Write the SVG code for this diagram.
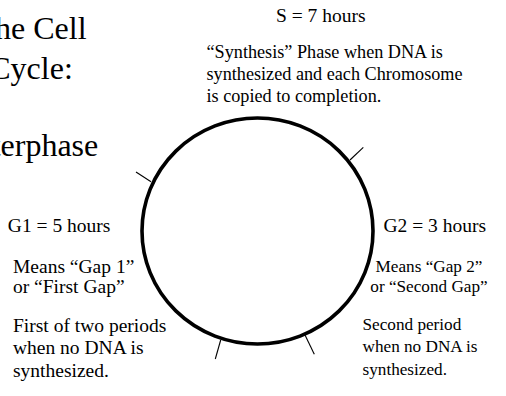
<svg xmlns="http://www.w3.org/2000/svg" width="506" height="396" viewBox="0 0 506 396">
  <style>
    text { font-family: "Liberation Serif", "Times New Roman", serif; fill: #000; }
    .title { font-size: 32px; }
    .phase { font-size: 19.5px; }
    .desc-top { font-size: 18.2px; }
    .desc-left { font-size: 19.5px; }
    .desc-right { font-size: 17.2px; }
    .cycle { fill: none; stroke: #000; stroke-width: 3.6; }
    .tick { stroke: #000; stroke-width: 1.1; }
  </style>
  <rect width="506" height="396" fill="#fff"/>

  <!-- heading, partly running off the left edge -->
  <g id="heading">
    <text class="title" x="31" y="38.5" text-anchor="middle">The Cell</text>
    <text class="title" x="31" y="79" text-anchor="middle">Cycle:</text>
    <text class="title" x="-35" y="156">Interphase</text>
  </g>

  <!-- the cycle ring with its phase boundary ticks -->
  <g id="cycle-ring">
    <ellipse class="cycle" cx="257.5" cy="231" rx="115.5" ry="113"/>
  </g>
  <g id="connectors">
    <line class="tick" x1="136" y1="172" x2="151" y2="181.7"/>
    <line class="tick" x1="363.3" y1="147.3" x2="350" y2="160"/>
    <line class="tick" x1="220.7" y1="340" x2="215.3" y2="359"/>
    <line class="tick" x1="305" y1="335" x2="314.3" y2="354.3"/>
  </g>

  <!-- S phase -->
  <g id="s-phase">
    <text class="phase" x="276" y="21.7">S = 7 hours</text>
    <text class="desc-top" x="206.5" y="57.5">“Synthesis” Phase when DNA is</text>
    <text class="desc-top" x="206.5" y="79.5">synthesized and each Chromosome</text>
    <text class="desc-top" x="206.5" y="101.5">is copied to completion.</text>
  </g>

  <!-- G1 phase -->
  <g id="g1-phase">
    <text class="phase" x="7.8" y="231.7">G1 = 5 hours</text>
    <text class="desc-left" x="13" y="272.7">Means “Gap 1”</text>
    <text class="desc-left" x="13" y="292.5">or “First Gap”</text>
    <text class="desc-left" x="13" y="331.7">First of two periods</text>
    <text class="desc-left" x="13" y="354">when no DNA is</text>
    <text class="desc-left" x="13" y="376.7">synthesized.</text>
  </g>

  <!-- G2 phase -->
  <g id="g2-phase">
    <text class="phase" x="383.5" y="231.7">G2 = 3 hours</text>
    <text class="desc-right" x="429" y="271.7" text-anchor="middle">Means “Gap 2”</text>
    <text class="desc-right" x="429" y="291.7" text-anchor="middle">or “Second Gap”</text>
    <text class="desc-right" x="362.5" y="330">Second period</text>
    <text class="desc-right" x="362.5" y="352.3">when no DNA is</text>
    <text class="desc-right" x="362.5" y="375">synthesized.</text>
  </g>
</svg>
